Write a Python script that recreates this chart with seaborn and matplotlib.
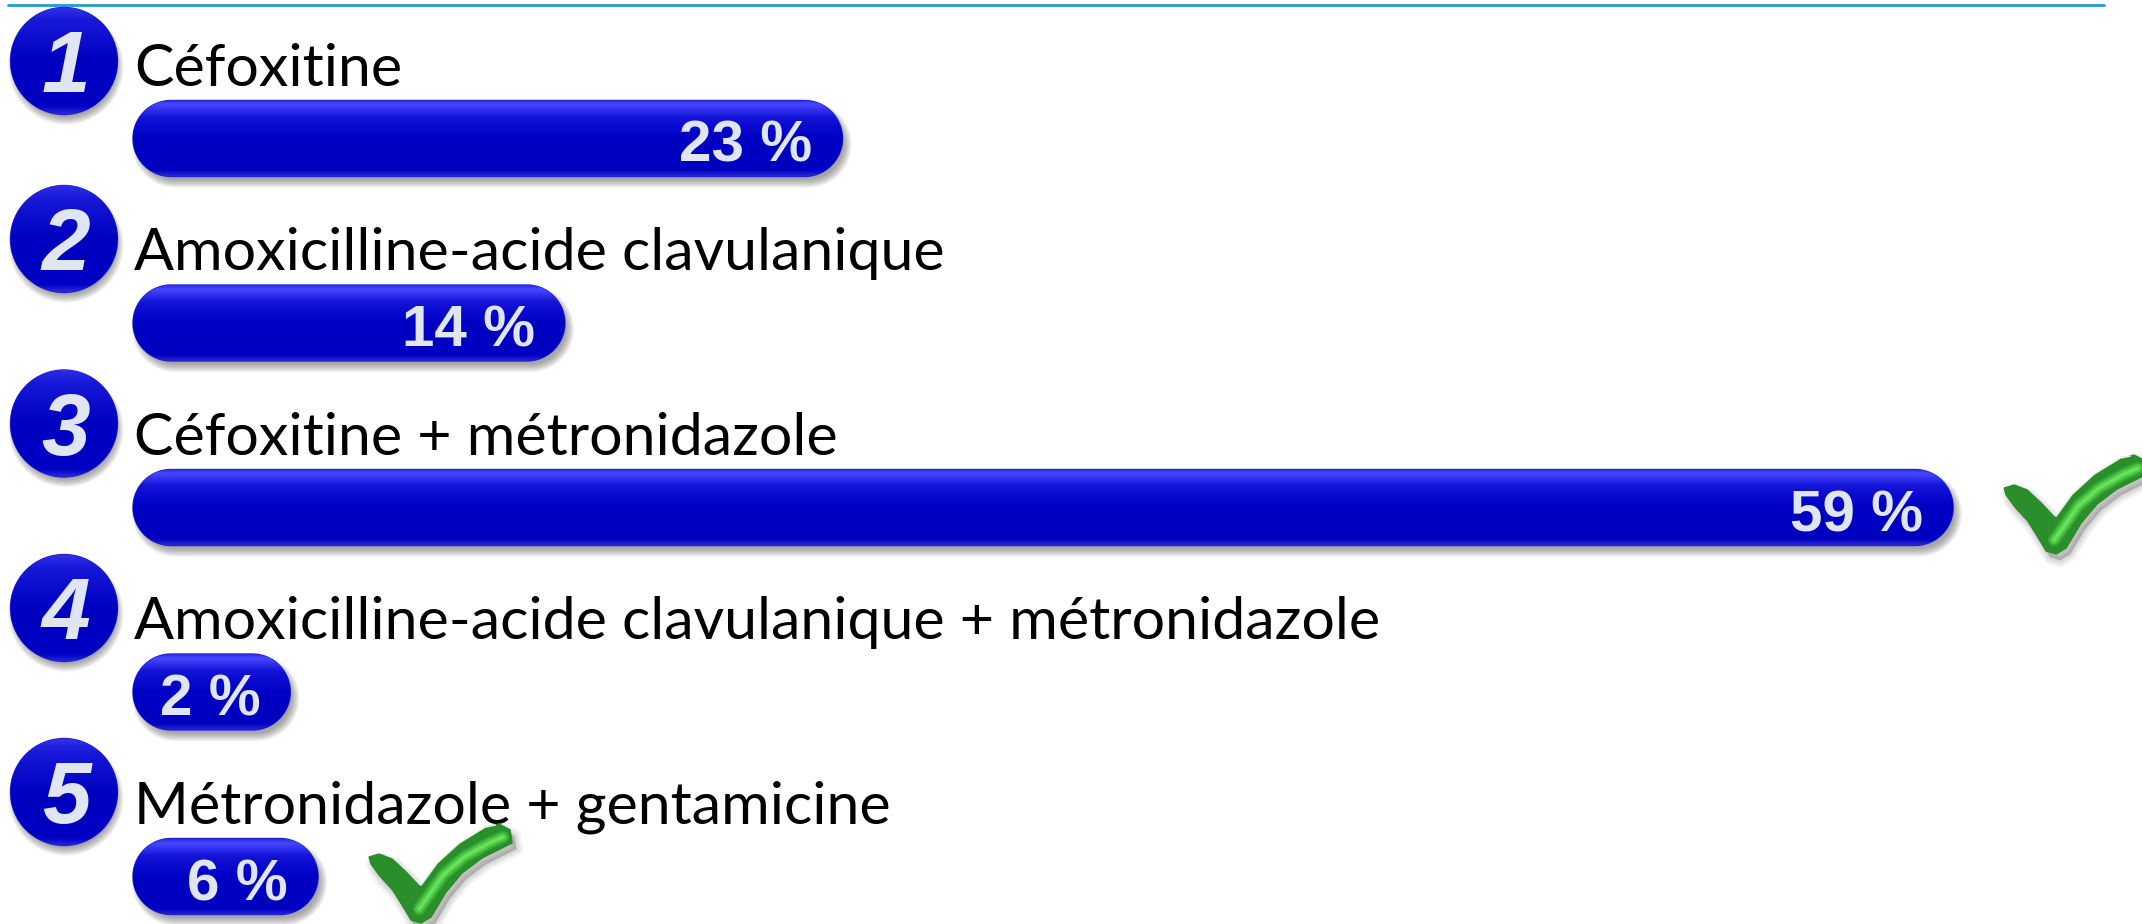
import numpy as np
import pandas as pd
import matplotlib
matplotlib.use('Agg')
import matplotlib.pyplot as plt
from matplotlib.colors import LinearSegmentedColormap
from matplotlib.patches import Ellipse, Polygon
import seaborn as sns

# chart values
ranks = ['1', '2', '3', '4', '5']
treatments = ['Céfoxitine', 'Amoxicilline-acide clavulanique', 'Céfoxitine + métronidazole',
              'Amoxicilline-acide clavulanique + métronidazole', 'Métronidazole + gentamicine']
percents = [23, 14, 59, 2, 6]
# 2 % is drawn longer than its value: the pill cannot get any shorter
bar_lengths = [23, 14, 59, 5.1, 6]
checked = [False, False, True, False, True]

# layout, in pixels of the 2142x924 picture
PX_PER_PERCENT = 30.85
PX_PER_ROW = 184.5
BAR_LEFT = 133
ROW_ONE = 138.5
BAR_HEIGHT = 76
CIRCLE_DY = [-77.5, -84, -84, -84, -84.5]

BLUE = LinearSegmentedColormap.from_list('pill', [
    (0.0, '#2a2ae0'), (0.05, '#4848ff'), (0.22, '#1414d8'), (0.5, '#0000c4'),
    (0.92, '#0000c0'), (1.0, '#2626d4')])
CIRCLE_BLUE = LinearSegmentedColormap.from_list('ball', [
    (0.0, '#3030e8'), (0.12, '#1818d8'), (0.5, '#0000c0'), (0.93, '#0000c4'), (1.0, '#2a2ad8')])
TEXT_LIGHT = '#dfe6f2'

# check mark outline, pixels from its left tip
CHECK_OUTER = [(0, 0), (10, -3), (23, 2), (37, 15), (51, 30), (67, 8), (90, -13), (117, -30),
               (130, -33), (141, -27), (143, -14), (113, 1), (93, 16), (77, 35), (62, 60),
               (52, 66), (42, 63), (33, 48), (23, 32), (10, 18), (2, 7)]
CHECK_BRIGHT = [(50, 52), (60, 38), (74, 18), (95, 0), (120, -14), (134, -20)]
CHECK_SHINE = [(52, 28), (68, 6), (90, -14), (116, -30), (126, -32)]


def px_x(p):
    return (p - BAR_LEFT) / PX_PER_PERCENT


def px_y(p):
    return (p - ROW_ONE) / PX_PER_ROW


def pill_outline(x0, y0, x1, y1, grow=0.0):
    # x0..y1 in pixels, two half rounds joined by straight edges
    r = (y1 - y0) / 2 + grow
    cy = (y0 + y1) / 2
    t_right = np.linspace(-np.pi / 2, np.pi / 2, 40)
    t_left = np.linspace(np.pi / 2, 3 * np.pi / 2, 40)
    xs = np.r_[x1 - (y1 - y0) / 2 + r * np.cos(t_right), x0 + (y1 - y0) / 2 + r * np.cos(t_left)]
    ys = np.r_[cy + r * np.sin(t_right), cy + r * np.sin(t_left)]
    return np.column_stack([px_x(xs), px_y(ys)])


def draw_pill(ax, bar):
    x0 = BAR_LEFT + bar.get_x() * PX_PER_PERCENT
    x1 = BAR_LEFT + (bar.get_x() + bar.get_width()) * PX_PER_PERCENT
    y0 = ROW_ONE + bar.get_y() * PX_PER_ROW
    y1 = ROW_ONE + (bar.get_y() + bar.get_height()) * PX_PER_ROW
    # soft shadow, lower right
    for grow in np.linspace(5, -3, 9):
        ax.add_patch(Polygon(pill_outline(x0 + 4, y0 + 6, x1 + 4, y1 + 6, grow), closed=True,
                             facecolor='#505050', edgecolor='none', alpha=0.07, zorder=2))
    body = Polygon(pill_outline(x0, y0, x1, y1), closed=True, facecolor='#0000c0',
                   edgecolor='#2020d0', lw=1, zorder=3)
    ax.add_patch(body)
    grad = np.linspace(0, 1, 200).reshape(-1, 1)
    im = ax.imshow(grad, cmap=BLUE, aspect='auto', zorder=3.1,
                   extent=[px_x(x0), px_x(x1), px_y(y1), px_y(y0)])
    im.set_clip_path(body)


def draw_circle(ax, cx_px, cy_px, label):
    r = 53.5
    for grow in np.linspace(4, -4, 9):
        ax.add_patch(Ellipse((px_x(cx_px + 2), px_y(cy_px + 6)), 2 * (r + grow) / PX_PER_PERCENT,
                             2 * (r + grow) / PX_PER_ROW,
                             facecolor='#505050', edgecolor='none', alpha=0.07, zorder=2))
    ball = Ellipse((px_x(cx_px), px_y(cy_px)), 2 * r / PX_PER_PERCENT, 2 * r / PX_PER_ROW,
                   facecolor='#0000c0', edgecolor='#2020d0', lw=1, zorder=3)
    ax.add_patch(ball)
    grad = np.linspace(0, 1, 200).reshape(-1, 1)
    im = ax.imshow(grad, cmap=CIRCLE_BLUE, aspect='auto', zorder=3.1,
                   extent=[px_x(cx_px - r), px_x(cx_px + r), px_y(cy_px + r), px_y(cy_px - r)])
    im.set_clip_path(ball)
    ax.text(px_x(cx_px + 2), px_y(cy_px + 31), label, color=TEXT_LIGHT, ha='center', va='baseline',
            fontsize=63, family='Liberation Sans', weight='bold', style='italic', zorder=5)


def draw_check(ax, tip_x, tip_y):
    def to_data(points, sx=0, sy=0):
        return [(px_x(tip_x + x + sx), px_y(tip_y + y + sy)) for x, y in points]

    for width, alpha in [(10, 0.05), (7, 0.06), (4, 0.07), (1, 0.08)]:
        ax.add_patch(Polygon(to_data(CHECK_OUTER, 4, 6), closed=True, facecolor='#303030', edgecolor='#303030',
                             lw=width, alpha=alpha, joinstyle='round', zorder=6))
    ax.add_patch(Polygon(to_data(CHECK_OUTER), closed=True, facecolor='#2a8f2a', edgecolor='#2a8a2a',
                         lw=1, joinstyle='round', zorder=7))
    xs, ys = zip(*to_data(CHECK_BRIGHT))
    ax.plot(xs, ys, color='#37a837', lw=9, solid_capstyle='round', solid_joinstyle='round', zorder=8)
    ax.plot(xs, ys, color='#4cc845', lw=6, solid_capstyle='round', solid_joinstyle='round', zorder=8.1)
    ax.plot(xs, ys, color='#68e25a', lw=2.5, solid_capstyle='round', solid_joinstyle='round', zorder=8.2)
    xs, ys = zip(*to_data(CHECK_SHINE))
    ax.plot(xs, ys, color='#e8f4e8', lw=1.2, zorder=8.3)


sns.set_theme(style='white')
plt.rcParams['font.family'] = ['Lato', 'DejaVu Sans']

df = pd.DataFrame({'treatment': treatments, 'length': bar_lengths})

fig = plt.figure(figsize=(21.42, 9.24), dpi=100)
ax = fig.add_axes([0, 0, 1, 1])
sns.barplot(data=df, x='length', y='treatment', orient='h', width=BAR_HEIGHT / PX_PER_ROW, ax=ax)

for i, bar in enumerate(list(ax.patches)):
    bar.set_visible(False)
    draw_pill(ax, bar)
    right = bar.get_x() + bar.get_width()
    center = bar.get_y() + bar.get_height() / 2
    ax.annotate(f'{percents[i]} %', (right, center), xytext=(-30, -23.5), textcoords='offset pixels',
                color=TEXT_LIGHT, ha='right', va='baseline', fontsize=42,
                family='Liberation Sans', weight='bold', zorder=5)
    ax.annotate(treatments[i], (0, center), xytext=(1, 53), textcoords='offset pixels',
                color='black', ha='left', va='baseline', fontsize=42.6, zorder=4)
    draw_circle(ax, 64, ROW_ONE + i * PX_PER_ROW + CIRCLE_DY[i], ranks[i])
    if checked[i]:
        tip_x = BAR_LEFT + right * PX_PER_PERCENT + 51
        draw_check(ax, tip_x, ROW_ONE + i * PX_PER_ROW - 19.5)

# thin rule along the top
ax.plot([px_x(8), px_x(2104)], [px_y(5), px_y(5)], color='#1f9bd8', lw=2, zorder=1)

ax.set_xlim(px_x(0), px_x(2142))
ax.set_ylim(px_y(924), px_y(0))
ax.set_axis_off()

fig.savefig('out.png', dpi=100, facecolor='white')
plt.close(fig)
